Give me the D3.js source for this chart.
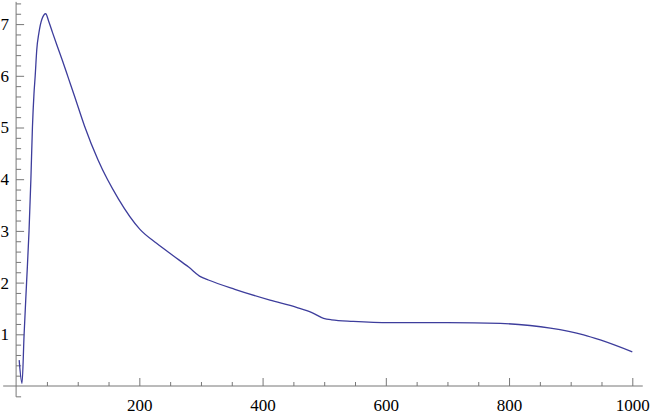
<!DOCTYPE html>
<html>
<head>
<meta charset="utf-8">
<script src="https://cdn.jsdelivr.net/npm/d3@7"></script>
<style>
  body { margin: 0; background: #fff; }
  svg { display: block; }
  .tick text { font-family: "Liberation Serif", "Times New Roman", serif; }
</style>
</head>
<body>
<svg id="chart" width="652" height="415"></svg>
<script>
// curve samples
const xValues = [5, 9.6, 13, 17, 21, 24, 26.5, 29, 31, 33.5, 37, 42, 48, 53, 59, 66, 75, 85, 95, 111, 133, 166, 201, 228, 255, 280, 300, 312, 355, 412, 455, 480, 499, 512, 547, 607, 700, 786, 834, 867, 921, 948, 1000];
const yValues = [0.50, 0.05, 1.0, 2.0, 3.0, 4.0, 5.0, 5.65, 6.0, 6.5, 6.83, 7.1, 7.2, 7.05, 6.84, 6.6, 6.3, 5.95, 5.6, 5.03, 4.37, 3.62, 3.03, 2.76, 2.52, 2.3, 2.11, 2.05, 1.87, 1.66, 1.52, 1.42, 1.31, 1.28, 1.25, 1.225, 1.225, 1.21, 1.17, 1.12, 0.99, 0.89, 0.66];

const xMajorTicks = [200, 400, 600, 800, 1000];
const yMajorTicks = [1, 2, 3, 4, 5, 6, 7];

function drawChart() {
    const svg = d3.select("#chart");
    svg.selectAll("*").remove();

    const x = d3.scaleLinear().domain([0, 1000]).range([16.1, 632.3]);
    const y = d3.scaleLinear().domain([0, 7]).range([386, 24.1]);

    const axisColor = "#777";
    const labelFont = "'Liberation Serif', 'Times New Roman', serif";

    // minor ticks every 50 / 0.2
    const xMinor = d3.range(1, 21).map(i => i * 50).filter(v => v % 200 !== 0);
    const yMinor = d3.range(-1, 38).filter(i => i % 5 !== 0).map(i => i / 5);

    // axis lines (run a little past the ticks, like the original)
    svg.append("line")
       .attr("x1", x(-21)).attr("x2", x(1017))
       .attr("y1", y(0)).attr("y2", y(0))
       .attr("stroke", axisColor).attr("stroke-width", 1);
    svg.append("line")
       .attr("x1", x(0)).attr("x2", x(0))
       .attr("y1", y(-0.21)).attr("y2", y(7.43))
       .attr("stroke", axisColor).attr("stroke-width", 1);

    // X ticks
    const gx = svg.append("g").attr("transform", `translate(0,${y(0)})`);
    gx.append("g")
      .call(d3.axisBottom(x).tickValues(xMinor).tickSizeInner(-4).tickSizeOuter(0).tickFormat(""));
    gx.append("g")
      .call(d3.axisBottom(x).tickValues(xMajorTicks).tickSizeInner(-8).tickSizeOuter(0).tickFormat(d3.format("d")));

    // Y ticks
    const gy = svg.append("g").attr("transform", `translate(${x(0)},0)`);
    gy.append("g")
      .call(d3.axisLeft(y).tickValues(yMinor).tickSizeInner(-5).tickSizeOuter(0).tickFormat(""));
    gy.append("g")
      .call(d3.axisLeft(y).tickValues(yMajorTicks).tickSizeInner(-8).tickSizeOuter(0).tickPadding(7).tickFormat(d3.format("d")));

    svg.selectAll(".domain").remove();
    svg.selectAll("g").attr("font-family", labelFont).attr("font-size", 17);
    svg.selectAll(".tick line").attr("stroke", axisColor);
    svg.selectAll(".tick text")
       .attr("fill", "#000")
       .style("font-family", labelFont)
       .style("font-size", "17px");
    gx.selectAll(".tick text").attr("y", 24.5).attr("dy", null);

    // the curve
    const line = d3.line()
                   .x((d, i) => x(xValues[i]))
                   .y(d => y(d))
                   .curve(d3.curveMonotoneX);

    svg.append("path")
       .datum(yValues)
       .attr("fill", "none")
       .attr("stroke", "#3d3d9c")
       .attr("stroke-width", 1.3)
       .attr("d", line);
}

drawChart();
</script>
</body>
</html>
